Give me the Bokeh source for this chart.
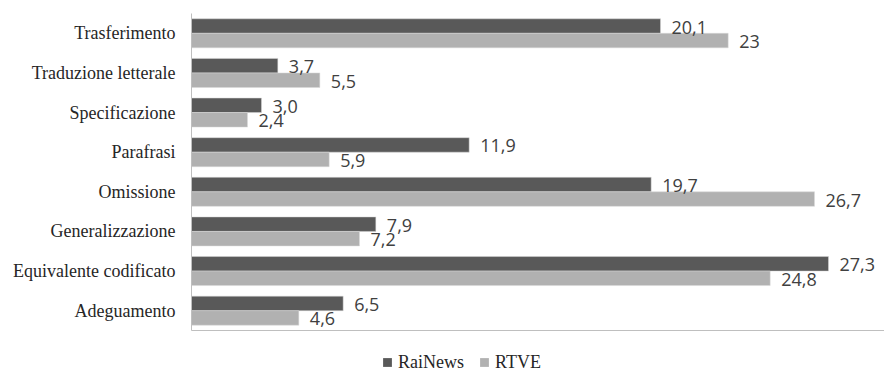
from bokeh.plotting import figure
from bokeh.layouts import column
from bokeh.models import ColumnDataSource, Range1d, FactorRange, Legend, LegendItem
from bokeh.transform import dodge
from bokeh.core.properties import value
from bokeh.embed import file_html
from bokeh.resources import INLINE

categories = ["Trasferimento", "Traduzione letterale", "Specificazione", "Parafrasi",
              "Omissione", "Generalizzazione", "Equivalente codificato", "Adeguamento"]
rainews = [20.1, 3.7, 3.0, 11.9, 19.7, 7.9, 27.3, 6.5]
rtve = [23.0, 5.5, 2.4, 5.9, 26.7, 7.2, 24.8, 4.6]
rainews_labels = ["20,1", "3,7", "3,0", "11,9", "19,7", "7,9", "27,3", "6,5"]
rtve_labels = ["23", "5,5", "2,4", "5,9", "26,7", "7,2", "24,8", "4,6"]
series_names = ["RaiNews", "RTVE"]

DARK = "#595959"
LIGHT = "#b1b1b1"

src = ColumnDataSource(dict(cat=categories, rai=rainews, rtve=rtve,
                            rai_lab=rainews_labels, rtve_lab=rtve_labels))

p = figure(width=884, height=335, output_backend="svg", toolbar_location=None,
           y_range=FactorRange(*reversed(categories)), x_range=Range1d(0, 29.7),
           min_border_left=191, min_border_right=0, min_border_top=13, min_border_bottom=5)
p.outline_line_color = None
p.xgrid.visible = False
p.ygrid.visible = False

off = 0.183
h = 0.366
r1 = p.hbar(y=dodge("cat", off, range=p.y_range), right="rai", left=0, height=h,
            source=src, fill_color=DARK, line_color="#d9d9d9", line_alpha=0.5, line_width=1)
r2 = p.hbar(y=dodge("cat", -off, range=p.y_range), right="rtve", left=0, height=h,
            source=src, fill_color=LIGHT, line_color="#d9d9d9", line_alpha=0.5, line_width=1)

lab_kw = dict(text_font=value("Open Sans"), text_font_size="18px", text_color="#404040",
              text_align="left", text_baseline="middle", x_offset=11, y_offset=1, source=src)
p.text(x="rai", y=dodge("cat", off, range=p.y_range), text="rai_lab", **lab_kw)
p.text(x="rtve", y=dodge("cat", -off, range=p.y_range), text="rtve_lab", **lab_kw)

ya = p.yaxis[0]
ya.axis_line_color = "#bfbfbf"
ya.major_tick_line_color = None
ya.minor_tick_line_color = None
ya.major_label_text_font = "Liberation Serif"
ya.major_label_text_font_size = "18px"
ya.major_label_text_color = "#262626"
ya.major_label_standoff = 10

xa = p.xaxis[0]
xa.axis_line_color = "#bfbfbf"
xa.major_tick_line_color = None
xa.minor_tick_line_color = None
xa.major_label_text_font_size = "0px"
xa.ticker = []

# legend strip below the chart
lg = figure(width=884, height=38, output_backend="svg", toolbar_location=None,
            x_range=Range1d(0, 1), y_range=Range1d(0, 1), x_axis_type=None, y_axis_type=None,
            min_border_left=0, min_border_right=0, min_border_top=0, min_border_bottom=0)
lg.outline_line_color = None
lg.xgrid.visible = False
lg.ygrid.visible = False
# legend-only renderers, kept outside the visible range
dummy = ColumnDataSource(dict(x=[-5.0], y=[-5.0]))
g1 = lg.scatter(x="x", y="y", marker="square", size=9, source=dummy,
                fill_color=DARK, line_color=None)
g2 = lg.scatter(x="x", y="y", marker="square", size=9, source=dummy,
                fill_color=LIGHT, line_color=None)

legend = Legend(items=[LegendItem(label=series_names[0], renderers=[g1]),
                       LegendItem(label=series_names[1], renderers=[g2])],
                orientation="horizontal", location=(185, 0),
                glyph_width=22, glyph_height=22, label_standoff=0, spacing=9,
                label_text_font="Liberation Serif", label_text_font_size="18px",
                label_text_color="#262626", background_fill_alpha=0,
                border_line_color=None, padding=0, margin=0)
lg.add_layout(legend, "center")

layout = column(p, lg, spacing=0)
open("out.html", "w").write(file_html(layout, INLINE))
